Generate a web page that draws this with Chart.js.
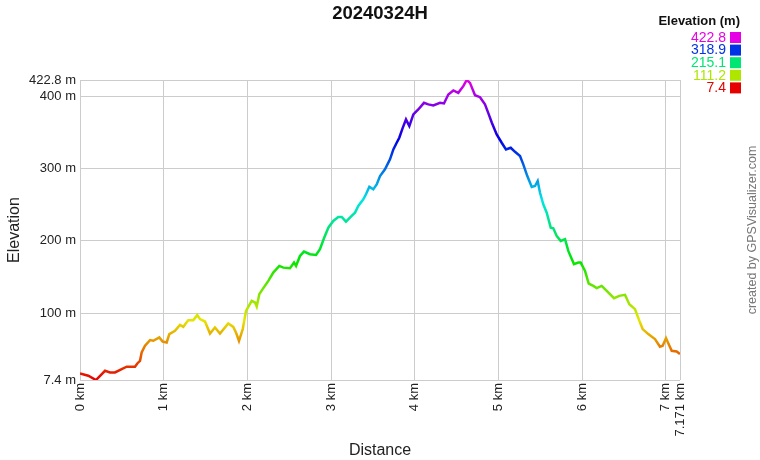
<!DOCTYPE html>
<html>
<head>
<meta charset="utf-8">
<script src="https://cdn.jsdelivr.net/npm/chart.js@4.4.1/dist/chart.umd.min.js"></script>
<style>
html, body { margin: 0; padding: 0; background: #fff; }
#wrap { width: 760px; height: 460px; }
</style>
</head>
<body>
<div id="wrap"><canvas id="elevChart"></canvas></div>
<script>
// distance (km) and elevation (m)
const distances = [0, 0.099, 0.191, 0.299, 0.359, 0.418, 0.498, 0.558, 0.657, 0.685, 0.717, 0.737, 0.777, 0.837, 0.876,
    0.948, 0.988, 1.036, 1.067, 1.135, 1.195, 1.235, 1.294, 1.354, 1.402, 1.434, 1.494, 1.554, 1.613, 1.673,
    1.772, 1.832, 1.864, 1.900, 1.945, 1.984, 2.052, 2.092, 2.112, 2.143, 2.191, 2.251, 2.310, 2.382, 2.430,
    2.510, 2.558, 2.582, 2.629, 2.677, 2.749, 2.821, 2.868, 2.916, 2.968, 3.027, 3.087, 3.128, 3.179, 3.247,
    3.287, 3.326, 3.386, 3.418, 3.458, 3.505, 3.546, 3.586, 3.645, 3.705, 3.745, 3.785, 3.816, 3.857, 3.896,
    3.936, 3.984, 4.043, 4.111, 4.163, 4.223, 4.303, 4.350, 4.402, 4.462, 4.521, 4.581, 4.622, 4.661, 4.721,
    4.781, 4.840, 4.880, 4.921, 4.980, 5.040, 5.091, 5.148, 5.199, 5.259, 5.298, 5.346, 5.399, 5.438, 5.470,
    5.498, 5.537, 5.578, 5.626, 5.657, 5.697, 5.745, 5.797, 5.836, 5.904, 5.956, 5.984, 6.036, 6.080, 6.135,
    6.175, 6.235, 6.295, 6.382, 6.446, 6.514, 6.565, 6.633, 6.685, 6.725, 6.792, 6.872, 6.932, 6.964, 7.004,
    7.032, 7.072, 7.132, 7.171];
const elevations = [16.5, 13.3, 7.4, 20.2, 17.9, 17.9, 22.6, 25.8, 25.8, 30.3, 34, 45.5, 54.8, 62.7, 61.7,
    66.3, 60.7, 59.4, 71, 75.5, 83.8, 81, 90.3, 90.3, 97.2, 91.7, 88.4, 71.8, 80.1, 71.8,
    85.6, 81, 73.2, 61.7, 77.9, 103, 117, 114.7, 109.1, 126.3, 134.6, 144.7, 156.1, 165.4, 163,
    162.2, 170, 165.4, 179.2, 185.2, 181.6, 180.6, 188.5, 203.7, 218.3, 227.6, 233.1, 233.1, 226.6, 234.5,
    239.1, 248.3, 257.6, 264.5, 275, 271.4, 278.3, 289.8, 299.1, 313, 326.7, 335.9, 342.8, 356.6, 368.2,
    359, 375.1, 382, 391.2, 389, 387.6, 391.2, 390.3, 402.8, 408.3, 405, 414.3, 422.8, 418.8, 401.8,
    399, 389, 377, 364, 347.5, 335.9, 326.7, 329, 323.4, 317.5, 306, 289.8, 274.6, 276, 282.9,
    266.7, 250.7, 239.1, 218.3, 217.5, 206.9, 200, 202.3, 186.1, 167.7, 170, 170, 158.5, 140.9, 137.7,
    134.6, 137.7, 130.8, 120.7, 123.9, 125.3, 112.4, 105.5, 89.4, 77.9, 71, 64.1, 53.4, 54.8, 65.4,
    58, 47.9, 46.9, 43.3];

const xTicks = [0, 1, 2, 3, 4, 5, 6, 7, 7.171];
const yTicks = [7.4, 100, 200, 300, 400, 422.8];
const legendLabels = ['422.8', '318.9', '215.1', '111.2', '7.4'];
const legendColors = ['#e600e6', '#0033e6', '#00e673', '#aee600', '#e60000'];

const FONT = "'Liberation Sans', Arial, sans-serif";
const minEle = yTicks[0], maxEle = yTicks[yTicks.length - 1];

// vertical rainbow gradient: red at min elevation -> magenta at max
function elevationGradient(chart) {
    const area = chart.chartArea;
    if (!area) return '#e60000';
    const ys = chart.scales.y;
    const g = chart.ctx.createLinearGradient(0, ys.getPixelForValue(minEle), 0, ys.getPixelForValue(maxEle));
    for (let i = 0; i <= 20; i++) {
        const f = i / 20;
        g.addColorStop(f, `hsl(${300 * f}, 100%, 45%)`);
    }
    return g;
}

const extras = {
    id: 'extras',
    afterDraw(chart) {
        const ctx = chart.ctx;
        ctx.save();
        ctx.fillStyle = '#111';
        ctx.font = `bold 18.5px ${FONT}`;
        ctx.textAlign = 'center';
        ctx.textBaseline = 'middle';
        ctx.fillText('20240324H', 380, 14);

        ctx.textAlign = 'right';
        ctx.font = `bold 13px ${FONT}`;
        ctx.fillText('Elevation (m)', 740, 21);
        ctx.font = `14px ${FONT}`;
        legendLabels.forEach((lab, i) => {
            const y = 37 + i * 12.6;
            ctx.fillStyle = legendColors[i];
            ctx.fillText(lab, 726, y + 1);
            ctx.fillRect(730, y - 5, 11, 11);
        });

        ctx.translate(753, 230);
        ctx.rotate(-Math.PI / 2);
        ctx.textAlign = 'center';
        ctx.fillStyle = '#777';
        ctx.font = `12.5px ${FONT}`;
        ctx.fillText('created by GPSVisualizer.com', 0, 0);
        ctx.restore();
    }
};

const ctx = document.getElementById('elevChart').getContext('2d');
window.elevChart = new Chart(ctx, {
    type: 'line',
    data: {
        datasets: [{
            data: distances.map((d, i) => ({ x: d, y: elevations[i] })),
            borderColor: c => elevationGradient(c.chart),
            borderWidth: 2.5,
            pointRadius: 0,
            fill: false,
            tension: 0
        }]
    },
    options: {
        responsive: true,
        maintainAspectRatio: false,
        animation: false,
        layout: { padding: { top: 80, right: 80, left: 0, bottom: 0 } },
        plugins: { legend: { display: false }, tooltip: { enabled: false } },
        scales: {
            x: {
                type: 'linear',
                min: 0,
                max: 7.171,
                afterBuildTicks: s => { s.ticks = xTicks.map(v => ({ value: v })); },
                afterFit: s => { s.height = 80; },
                ticks: {
                    autoSkip: false,
                    minRotation: 90,
                    maxRotation: 90,
                    padding: 3,
                    color: '#222',
                    font: { family: FONT, size: 13 },
                    callback: v => v + ' km'
                },
                grid: { color: '#ccc', drawTicks: false },
                border: { display: false },
                title: { display: true, text: 'Distance', color: '#222', font: { family: FONT, size: 16 }, padding: 0 }
            },
            y: {
                min: minEle,
                max: maxEle,
                afterBuildTicks: s => { s.ticks = yTicks.map(v => ({ value: v })); },
                afterFit: s => { s.width = 80; },
                ticks: {
                    autoSkip: false,
                    padding: 4,
                    color: '#222',
                    font: { family: FONT, size: 13 },
                    callback: v => v + ' m'
                },
                grid: { color: '#ccc', drawTicks: false },
                border: { display: false },
                title: { display: true, text: 'Elevation', color: '#222', font: { family: FONT, size: 16 }, padding: 5 }
            }
        }
    },
    plugins: [extras]
});
</script>
</body>
</html>
